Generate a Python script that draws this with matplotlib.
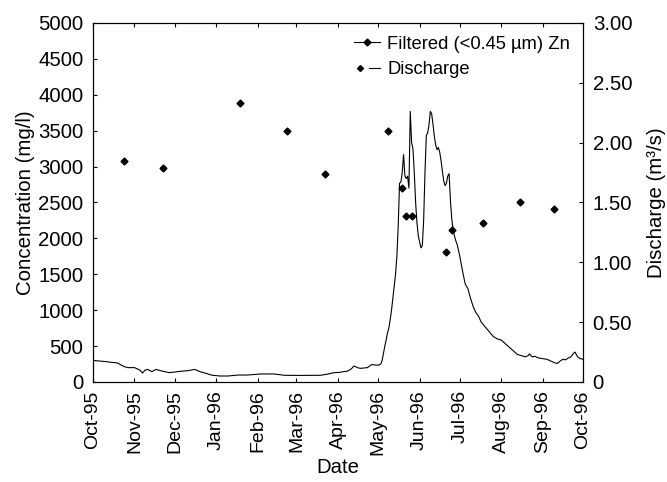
import pandas as pd
import matplotlib
matplotlib.use('Agg')
import matplotlib.pyplot as plt
import matplotlib.dates as mdates
from matplotlib.lines import Line2D
from matplotlib.legend_handler import HandlerTuple
from matplotlib.ticker import FuncFormatter, MultipleLocator

START = pd.Timestamp('1995-10-01')
END = pd.Timestamp('1996-10-01')

# filtered Zn samples (days after 1 Oct 1995, mg/l)
zn_day = [23, 52, 110, 145, 173, 220, 231, 234, 238, 264, 268, 291, 319, 344]
zn_conc = [3080, 2980, 3890, 3490, 2890, 3500, 2700, 2310, 2310, 1815, 2115, 2215, 2505, 2410]

# discharge (days after 1 Oct 1995, m3/s)
q_day = [0, 5, 10, 13, 18, 23, 26, 31, 35, 37, 39, 41, 44, 47, 52, 57, 62, 66, 71, 76,
         80, 85, 89, 95, 101, 108, 115, 120, 125, 130, 135, 143, 150, 158, 165, 170, 175,
         180, 184, 187, 190, 193, 195, 198, 200, 203, 205, 208, 211, 213, 215, 216, 217,
         218, 219, 220, 221, 222, 223, 224, 225, 226, 227, 228, 229, 230, 231, 232, 233,
         234, 235, 236, 237, 238, 239, 240, 241, 242, 243, 244, 245, 246, 247, 248, 249,
         250, 251, 252, 253, 254, 255, 256, 257, 258, 259, 260, 261, 262, 263, 264, 265,
         266, 267, 268, 269, 270, 271, 272, 274, 276, 278, 280, 282, 284, 286, 288, 290,
         293, 296, 299, 302, 305, 308, 311, 314, 317, 320, 323, 325, 326, 328, 330, 333,
         336, 339, 342, 345, 347, 349, 351, 353, 355, 357, 359, 360, 362, 364, 366]
q_val = [0.18, 0.175, 0.17, 0.165, 0.16, 0.13, 0.12, 0.12, 0.10, 0.075, 0.10, 0.105,
         0.086, 0.105, 0.09, 0.078, 0.085, 0.09, 0.095, 0.105, 0.086, 0.07, 0.056, 0.05,
         0.05, 0.058, 0.058, 0.062, 0.067, 0.067, 0.067, 0.056, 0.055, 0.055, 0.056, 0.056,
         0.065, 0.078, 0.08, 0.086, 0.09, 0.11, 0.134, 0.118, 0.114, 0.118, 0.12, 0.145,
         0.142, 0.14, 0.15, 0.18, 0.24, 0.30, 0.35, 0.41, 0.45, 0.52, 0.60, 0.70, 0.80,
         0.90, 1.05, 1.30, 1.66, 1.67, 1.75, 1.90, 1.72, 1.70, 1.72, 1.62, 2.26, 2.00,
         1.95, 1.75, 1.50, 1.33, 1.22, 1.17, 1.12, 1.14, 1.35, 1.75, 2.06, 2.08, 2.15,
         2.26, 2.24, 2.15, 2.05, 1.98, 1.94, 1.96, 1.92, 1.85, 1.76, 1.68, 1.64, 1.66,
         1.72, 1.74, 1.52, 1.36, 1.28, 1.22, 1.18, 1.15, 1.05, 0.93, 0.82, 0.78, 0.70,
         0.63, 0.58, 0.55, 0.50, 0.46, 0.42, 0.38, 0.36, 0.35, 0.32, 0.29, 0.26, 0.23,
         0.22, 0.21, 0.22, 0.235, 0.21, 0.215, 0.20, 0.195, 0.19, 0.175, 0.16, 0.155,
         0.175, 0.19, 0.185, 0.20, 0.21, 0.24, 0.25, 0.21, 0.195, 0.19]

plt.rcParams['font.family'] = ['Liberation Sans', 'DejaVu Sans']
plt.rcParams['font.size'] = 14.7

zn_dates = START + pd.to_timedelta(zn_day, unit='D')
q_dates = START + pd.to_timedelta(q_day, unit='D')

fig = plt.figure(figsize=(6.67, 4.82), dpi=100)
ax = fig.add_axes([0.1394, 0.2075, 0.7346, 0.745])
ax2 = ax.twinx()

ax.plot(zn_dates, zn_conc, linestyle='none', marker='D', markersize=3.5,
        color='black')
ax2.plot(q_dates, q_val, color='black', linewidth=0.8)

ax.set_xlim(START, END)
ax.set_ylim(0, 5000)
ax2.set_ylim(0, 3)
ax.yaxis.set_major_locator(MultipleLocator(500))
ax2.yaxis.set_major_locator(MultipleLocator(0.5))
ax2.yaxis.set_major_formatter(FuncFormatter(lambda v, p: '0' if v == 0 else f'{v:.2f}'))

ax.xaxis.set_major_locator(mdates.MonthLocator())
ax.xaxis.set_major_formatter(mdates.DateFormatter('%b-%y'))
for lbl in ax.get_xticklabels():
    lbl.set_rotation(90)

ax.tick_params(axis='x', direction='in', top=True, length=3, pad=6, labelsize=14)
ax.tick_params(axis='y', direction='in', length=3, pad=7)
ax2.tick_params(direction='in', length=3, pad=7)

ax.set_xlabel('Date', labelpad=2)
ax.set_ylabel('Concentration (mg/l)', labelpad=2)
ax2.set_ylabel('Discharge (m³/s)', labelpad=11)

zn_handle = Line2D([], [], color='black', linewidth=0.8, marker='D', markersize=3.5)
dot_handle = Line2D([], [], linestyle='none', marker='D', markersize=3, color='black')
q_handle = Line2D([], [], color='black', linewidth=0.8)
ax.legend([zn_handle, (dot_handle, q_handle)],
          ['Filtered (<0.45 µm) Zn', 'Discharge'],
          handler_map={tuple: HandlerTuple(ndivide=None, pad=0.2)},
          loc='upper right', frameon=False, fontsize=13.2, handlelength=1.4,
          handletextpad=0.4, labelspacing=0.45, borderaxespad=0.3)

fig.savefig('out.png', dpi=100)
